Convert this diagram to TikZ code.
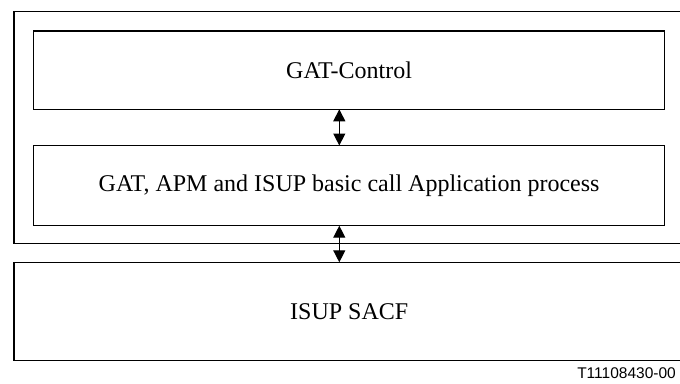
\documentclass[tikz,border=0pt]{standalone}
\usepackage{fontspec}
\setmainfont{Liberation Serif}
\newfontfamily\labelfont{Liberation Sans}
\usetikzlibrary{arrows.meta}
\begin{document}
\begin{tikzpicture}[x=1pt,y=-1pt,
  frame/.style={draw=black,line width=1.3pt,rectangle,inner sep=0pt,outer sep=0pt,
    font=\fontsize{24}{29}\selectfont},
  link/.style={line width=1.3pt,{Triangle[width=12pt,length=12pt]}-{Triangle[width=12pt,length=12pt]}}]
\useasboundingbox (0,0) rectangle (680,383);
% enclosing frame of the application part
\node[frame,minimum width=670.5pt,minimum height=231.8pt] (outer) at (349.25,127.4) {};
% upper functional blocks
\node[frame,minimum width=631.2pt,minimum height=78.3pt] (ctrl) at (349.1,70.15) {GAT-Control};
\node[frame,minimum width=631.2pt,minimum height=80.2pt] (ap) at (349.1,185.6) {GAT, APM and ISUP basic call Application process};
% lower block
\node[frame,minimum width=670.5pt,minimum height=98.2pt] (sacf) at (349.25,311.4) {ISUP SACF};
% interfaces between blocks
\draw[link] (ctrl.south -| 339.3,0) -- (ap.north -| 339.3,0);
\draw[link] (ap.south -| 339.3,0) -- (sacf.north -| 339.3,0);
% figure reference
\node[anchor=base east,inner sep=0pt,font=\labelfont\fontsize{15.5}{18}\selectfont] (ref) at (676,378.5) {T11108430-00};
\end{tikzpicture}
\end{document}
